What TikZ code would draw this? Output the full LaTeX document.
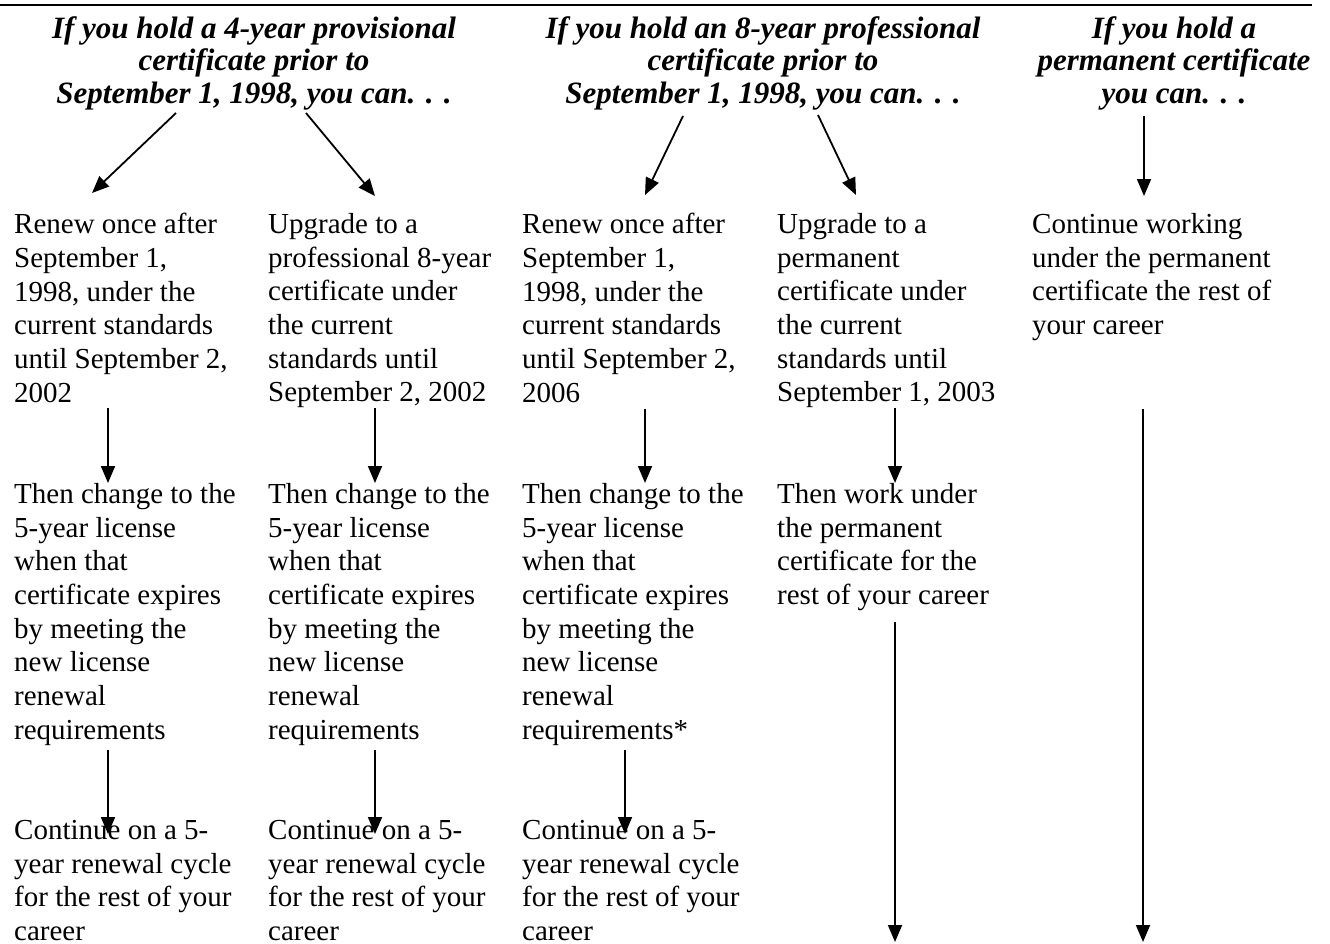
\documentclass[tikz,border=0pt]{standalone}
\usepackage{fontspec}
\setmainfont{Liberation Serif}
\usetikzlibrary{arrows.meta,calc}
\begin{document}
\begin{tikzpicture}[x=1pt,y=-1pt,
  body/.style={anchor=north west,align=left,inner sep=0pt,font=\fontsize{29}{33.7}\selectfont},
  head/.style={anchor=north,align=center,inner sep=0pt,font=\fontsize{31}{32.5}\selectfont\bfseries\itshape},
  arr/.style={-{Triangle[length=17pt,width=14pt]},line width=1.8pt},
  rule/.style={line width=2.5pt}]
\useasboundingbox (0,0) rectangle (1330,943);
\draw[rule] (0,5) -- (1312,5);
% headings
\node[head] (h1) at (254,16) {If you hold a 4-year provisional\\certificate prior to\\September 1, 1998, you can. . .};
\node[head] (h2) at (763,16) {If you hold an 8-year professional\\certificate prior to\\September 1, 1998, you can. . .};
\node[head] (h3) at (1174,16) {If you hold a\\permanent certificate\\you can. . .};
% row 1
\node[body] (a1) at (14,213) {Renew once after\\September 1,\\1998, under the\\current standards\\until September 2,\\2002};
\node[body] (a2) at (268,213) {Upgrade to a\\professional 8-year\\certificate under\\the current\\standards until\\September 2, 2002};
\node[body] (a3) at (522,213) {Renew once after\\September 1,\\1998, under the\\current standards\\until September 2,\\2006};
\node[body] (a4) at (777,213) {Upgrade to a\\permanent\\certificate under\\the current\\standards until\\September 1, 2003};
\node[body] (a5) at (1032,213) {Continue working\\under the permanent\\certificate the rest of\\your career};
% row 2
\node[body] (b1) at (14,483) {Then change to the\\5-year license\\when that\\certificate expires\\by meeting the\\new license\\renewal\\requirements};
\node[body] (b2) at (268,483) {Then change to the\\5-year license\\when that\\certificate expires\\by meeting the\\new license\\renewal\\requirements};
\node[body] (b3) at (522,483) {Then change to the\\5-year license\\when that\\certificate expires\\by meeting the\\new license\\renewal\\requirements*};
\node[body] (b4) at (777,483) {Then work under\\the permanent\\certificate for the\\rest of your career};
% row 3
\node[body] (c1) at (14,820) {Continue on a 5-\\year renewal cycle\\for the rest of your\\career};
\node[body] (c2) at (268,820) {Continue on a 5-\\year renewal cycle\\for the rest of your\\career};
\node[body] (c3) at (522,820) {Continue on a 5-\\year renewal cycle\\for the rest of your\\career};
% arrow start/end points
\coordinate (h1l) at (176,113);
\coordinate (h1r) at (306,113);
\coordinate (h2l) at (683,116);
\coordinate (h2r) at (818,115);
\coordinate (h3c) at (1144,116);
\coordinate (e4) at (895,942);
\coordinate (e5) at (1143,942);
% heading arrows
\draw[arr] (h1l) -- ($(a1.north west)+(78,-20)$);
\draw[arr] (h1r) -- ($(a2.north west)+(107,-17)$);
\draw[arr] (h2l) -- ($(a3.north west)+(123,-18)$);
\draw[arr] (h2r) -- ($(a4.north west)+(79,-18)$);
\draw[arr] (h3c) -- ($(a5.north west)+(112,-17)$);
% row 1 -> row 2
\draw[arr] ($(a1.south west)+(94,5)$) -- ($(b1.north west)+(94,0)$);
\draw[arr] ($(a2.south west)+(107,0)$) -- ($(b2.north west)+(107,0)$);
\draw[arr] ($(a3.south west)+(123,6)$) -- ($(b3.north west)+(123,0)$);
\draw[arr] ($(a4.south west)+(118,0)$) -- ($(b4.north west)+(118,0)$);
\draw[arr] ($(a5.south west)+(111,68)$) -- (e5);
% row 2 -> row 3
\draw[arr] ($(b1.south west)+(94,4)$) -- ($(c1.north west)+(94,14)$);
\draw[arr] ($(b2.south west)+(107,4)$) -- ($(c2.north west)+(107,14)$);
\draw[arr] ($(b3.south west)+(103,4)$) -- ($(c3.north west)+(103,14)$);
\draw[arr] ($(b4.south west)+(118,11)$) -- (e4);
\end{tikzpicture}
\end{document}
